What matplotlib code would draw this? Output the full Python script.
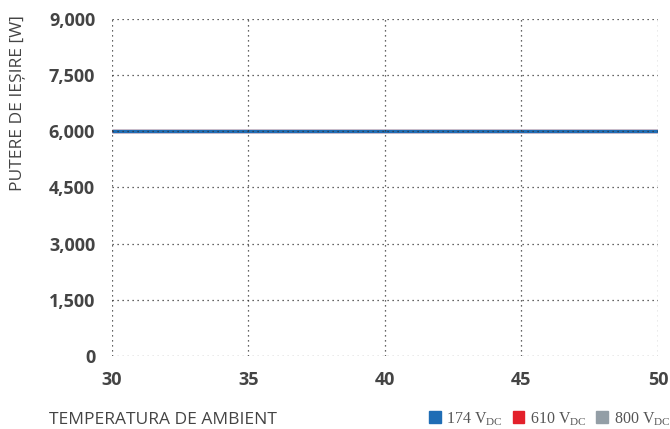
import numpy as np
import matplotlib
matplotlib.use("Agg")
from matplotlib import pyplot as plt
from matplotlib.patches import Patch

# Data
temp = [30, 35, 40, 45, 50]
p_174 = [6000, 6000, 6000, 6000, 6000]
p_610 = [6000, 6000, 6000, 6000, 6000]
p_800 = [6000, 6000, 6000, 6000, 6000]
yticks = [0, 1500, 3000, 4500, 6000, 7500, 9000]
series_names = ["174", "610", "800"]
colors = ["#1f6db5", "#e3202a", "#939ea6"]

plt.rcParams['mathtext.fontset'] = 'custom'
plt.rcParams['mathtext.rm'] = 'Liberation Serif'

fig = plt.figure(figsize=(6.7, 4.29), dpi=100)
ax = fig.add_axes([0.167, 0.170, 0.815, 0.786])

ax.plot(temp, p_800, color=colors[2], lw=2.4, solid_capstyle='butt')
ax.plot(temp, p_610, color=colors[1], lw=2.4, solid_capstyle='butt')
ax.plot(temp, p_174, color=colors[0], lw=2.4, solid_capstyle='butt')

ax.set_xlim(30, 50)
ax.set_ylim(0, 9000)
ax.set_xticks(temp)
ax.set_yticks(yticks)
ax.set_yticklabels([f"{v:,}" for v in yticks])
ax.grid(True, linestyle=(0, (1, 3)), color='#333333', lw=0.9)
for s in ax.spines.values():
    s.set_visible(False)
ax.tick_params(axis='y', length=0, pad=12, labelcolor='#444444')
ax.tick_params(axis='x', length=0, pad=11, labelcolor='#444444')
for lab in ax.get_xticklabels() + ax.get_yticklabels():
    lab.set_fontfamily('Open Sans')
    lab.set_fontweight('bold')
    lab.set_fontsize(13)
ax.set_axisbelow(False)

fig.text(0.027, 0.965, "PUTERE DE IEȘIRE [W]", rotation=90, ha='center', va='top',
         fontsize=12.5, color='#444444', family='Open Sans')
fig.text(0.073, 0.021, "TEMPERATURA DE AMBIENT", ha='left', va='center',
         fontsize=12.5, color='#444444', family='Open Sans')

handles = [Patch(color=c) for c in colors]
labels = [n + r" V$_\mathregular{DC}$" for n in series_names]
leg = fig.legend(handles, labels, loc='center left', bbox_to_anchor=(0.628, 0.024),
                 ncol=3, frameon=False, handlelength=0.75, handleheight=0.75,
                 handletextpad=0.35, columnspacing=0.6, borderpad=0,
                 prop={'family': 'Liberation Serif', 'size': 11.5})
for t in leg.get_texts():
    t.set_color('#555555')

fig.savefig("out.png", dpi=100)
